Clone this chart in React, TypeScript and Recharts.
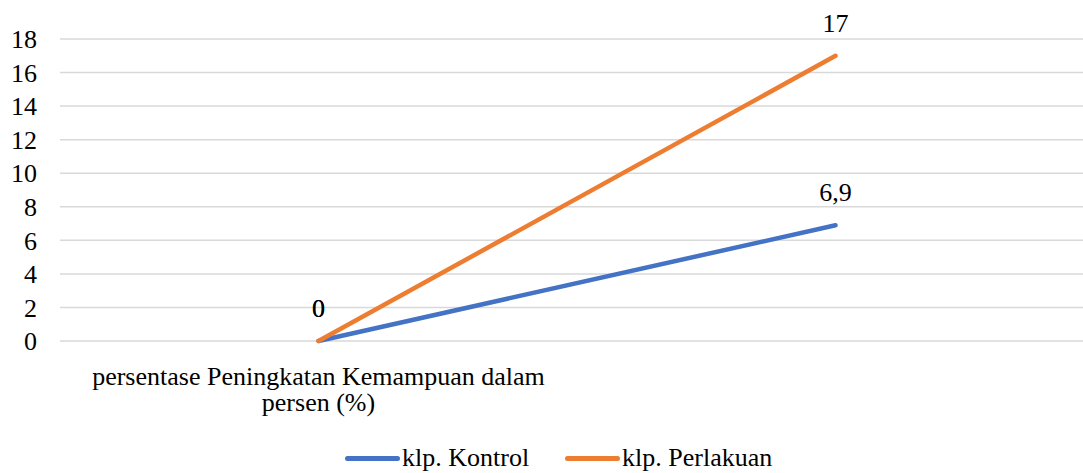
import React from 'react';
import { LineChart, Line, XAxis, YAxis, CartesianGrid, LabelList } from 'recharts';

const categories: string[] = ['persentase Peningkatan Kemampuan dalam persen (%)', ''];
const kontrol: number[] = [0, 6.9];
const perlakuan: number[] = [0, 17];
const yTicks: number[] = [0, 2, 4, 6, 8, 10, 12, 14, 16, 18];

const series = [
  { key: 'kontrol', name: 'klp. Kontrol', color: '#4472C4' },
  { key: 'perlakuan', name: 'klp. Perlakuan', color: '#ED7D31' },
];

const data = categories.map((c, i) => ({ cat: c, kontrol: kontrol[i], perlakuan: perlakuan[i] }));

const FONT = '"Liberation Serif", "Times New Roman", serif';

const fmt = (v: any) => String(v).replace('.', ',');

// break a label into lines of at most maxChars characters
function wrap(s: string, maxChars: number): string[] {
  const lines: string[] = [];
  let cur = '';
  s.split(' ').forEach((w) => {
    const next = cur ? cur + ' ' + w : w;
    if (next.length > maxChars && cur) {
      lines.push(cur);
      cur = w;
    } else {
      cur = next;
    }
  });
  if (cur) lines.push(cur);
  return lines;
}

function CatTick(props: any) {
  const { x, y, payload } = props;
  if (!payload.value) return null;
  const lines = wrap(payload.value, 40);
  return (
    <text x={x} y={y} textAnchor="middle" fontFamily={FONT} fontSize={26} fill="#000">
      {lines.map((l, i) => (
        <tspan key={i} x={x} dy={i === 0 ? 18.5 : 26}>
          {l}
        </tspan>
      ))}
    </text>
  );
}

export default function App() {
  return (
    <div
      style={{
        position: 'absolute',
        left: 0,
        top: 0,
        width: 1083,
        height: 473,
        overflow: 'hidden',
        background: '#fff',
        fontFamily: FONT,
      }}
    >
      <LineChart width={1094} height={473} data={data} margin={{ top: 39, right: 0, bottom: 0, left: 0 }}>
        <CartesianGrid vertical={false} stroke="#d9d9d9" strokeWidth={1.5} />
        <XAxis
          dataKey="cat"
          axisLine={false}
          tickLine={false}
          tickSize={0}
          tickMargin={25.5}
          height={132}
          interval={0}
          padding={{ left: 258.5, right: 258.5 }}
          tick={<CatTick />}
        />
        <YAxis
          domain={[0, 18]}
          ticks={yTicks}
          interval={0}
          width={60}
          axisLine={false}
          tickLine={false}
          tickSize={0}
          tickMargin={23}
          tick={{ fontFamily: FONT, fontSize: 26, fill: '#000' }}
        />
        {series.map((s) => (
          <Line
            key={s.key}
            type="linear"
            dataKey={s.key}
            name={s.name}
            stroke={s.color}
            strokeWidth={4.5}
            strokeLinecap="round"
            dot={false}
            activeDot={false}
            isAnimationActive={false}
          >
            <LabelList
              dataKey={s.key}
              position="top"
              offset={24}
              formatter={fmt}
              fontFamily={FONT}
              fontSize={26}
              fill="#000"
            />
          </Line>
        ))}
      </LineChart>
      <div
        style={{
          position: 'absolute',
          left: 345,
          top: 445,
          display: 'flex',
          alignItems: 'center',
          fontFamily: FONT,
          fontSize: 26,
          lineHeight: '26px',
          color: '#000',
          whiteSpace: 'nowrap',
        }}
      >
        {series.map((s, i) => (
          <div key={s.key} style={{ display: 'flex', alignItems: 'center', marginLeft: i === 0 ? 0 : 36 }}>
            <span style={{ display: 'inline-block', width: 55, height: 5, borderRadius: 3, background: s.color, marginRight: 2 }} />
            <span>{s.name}</span>
          </div>
        ))}
      </div>
    </div>
  );
}
